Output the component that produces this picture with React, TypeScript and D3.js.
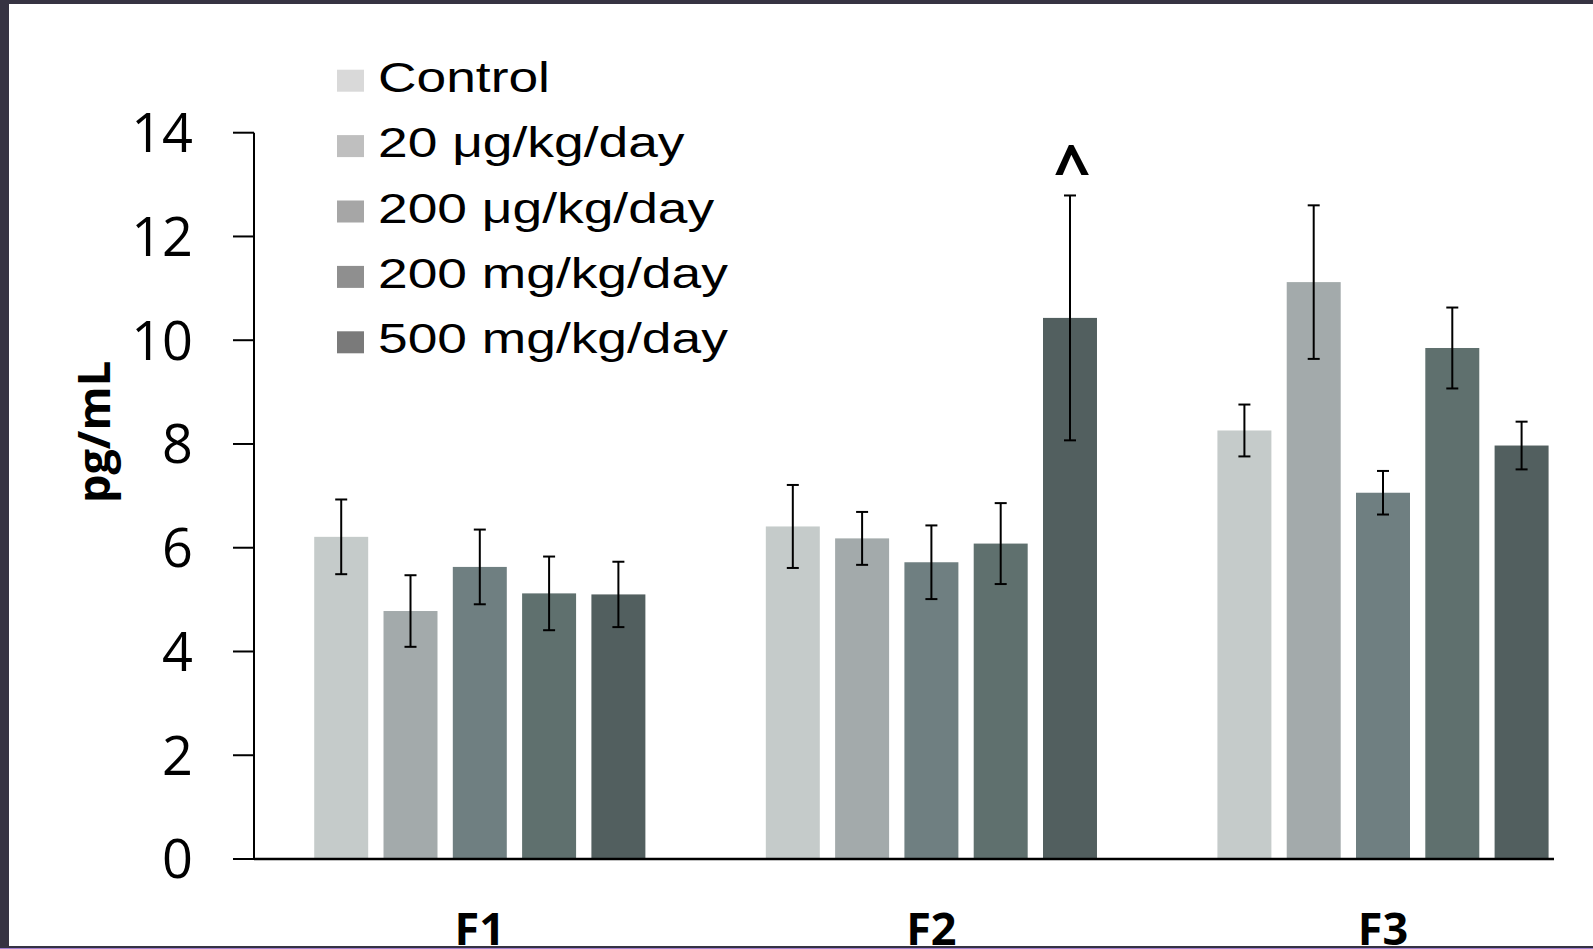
import React from "react";
import * as d3 from "d3";

const generations = ["F1", "F2", "F3"];
const series = ["Control", "20 μg/kg/day", "200 μg/kg/day", "200 mg/kg/day", "500 mg/kg/day"];
const meanF1 = [6.21, 4.78, 5.63, 5.12, 5.1];
const meanF2 = [6.41, 6.18, 5.72, 6.08, 10.43];
const meanF3 = [8.26, 11.12, 7.06, 9.85, 7.97];
const errF1 = [0.72, 0.69, 0.72, 0.71, 0.63];
const errF2 = [0.8, 0.51, 0.71, 0.78, 2.36];
const errF3 = [0.5, 1.48, 0.42, 0.78, 0.46];
const yTicks = [0, 2, 4, 6, 8, 10, 12, 14];
const barColors = ["#c5cbca", "#a3aaab", "#6f7f81", "#5f706e", "#525f5f"];
const legendColors = ["#d9d9d9", "#bfbfbf", "#a6a6a6", "#8f8f8f", "#7a7a7a"];
const markers = [{ gen: "F2", series: "500 mg/kg/day", text: "^" }];

const means = [meanF1, meanF2, meanF3];
const errs = [errF1, errF2, errF3];

export default function App() {
  const W = 1593;
  const H = 949;
  const axisX = 254;
  const y = d3.scaleLinear().domain([0, 14]).range([859, 132.7]);
  const x0 = d3.scaleBand().domain(generations).range([axisX, axisX + 3 * 451.6]).padding(0);
  const x1 = d3
    .scaleBand()
    .domain(series)
    .range([0, x0.bandwidth()])
    .paddingInner(0.221)
    .paddingOuter(0.869);
  const bw = x1.bandwidth();

  const font = "'Open Sans', sans-serif";

  return (
    <svg
      width={W}
      height={H}
      style={{ position: "fixed", left: 0, top: 0, background: "#fff" }}
    >
      <rect x={0} y={0} width={W} height={H} fill="#fff" />
      {/* bars */}
      {generations.map((g, gi) => (
        <g key={g} transform={`translate(${x0(g)},0)`}>
          {series.map((s, si) => {
            const v = means[gi][si];
            const e = errs[gi][si];
            const cx = (x1(s) as number) + bw / 2;
            return (
              <g key={s}>
                <rect
                  x={x1(s)}
                  y={y(v)}
                  width={bw}
                  height={y(0) - y(v)}
                  fill={barColors[si]}
                />
                <line x1={cx} x2={cx} y1={y(v + e)} y2={y(v - e)} stroke="#000" strokeWidth={2} />
                <line x1={cx - 6} x2={cx + 6} y1={y(v + e)} y2={y(v + e)} stroke="#000" strokeWidth={2} />
                <line x1={cx - 6} x2={cx + 6} y1={y(v - e)} y2={y(v - e)} stroke="#000" strokeWidth={2} />
              </g>
            );
          })}
        </g>
      ))}
      {/* markers */}
      {markers.map((m) => {
        const gi = generations.indexOf(m.gen);
        const si = series.indexOf(m.series);
        const cx = (x0(m.gen) as number) + (x1(m.series) as number) + bw / 2;
        const top = y(means[gi][si] + errs[gi][si]);
        return (
          <text
            key={m.gen + m.series}
            x={cx + 2}
            y={top - 4}
            textAnchor="middle"
            fontFamily={font}
            fontWeight="bold"
            fontSize={64}
            fill="#000"
          >
            {m.text}
          </text>
        );
      })}
      {/* axes */}
      <line x1={axisX} x2={axisX} y1={y(14)} y2={y(0)} stroke="#000" strokeWidth={2} />
      <line x1={axisX} x2={1554} y1={y(0)} y2={y(0)} stroke="#000" strokeWidth={2.5} />
      {yTicks.map((t) => (
        <g key={t}>
          <line x1={233} x2={axisX} y1={y(t)} y2={y(t)} stroke="#000" strokeWidth={2} />
          <text
            x={193}
            y={y(t)}
            dy="0.36em"
            textAnchor="end"
            fontFamily={font}
            fontSize={54}
            fill="#000"
          >
            {t}
          </text>
        </g>
      ))}
      {generations.map((g) => (
        <text
          key={g}
          x={(x0(g) as number) + x0.bandwidth() / 2}
          y={945}
          textAnchor="middle"
          fontFamily={font}
          fontWeight="bold"
          fontSize={45}
          fill="#000"
        >
          {g}
        </text>
      ))}
      <text
        transform={`translate(110,432) rotate(-90)`}
        textAnchor="middle"
        fontFamily={font}
        fontWeight="bold"
        fontSize={45}
        fill="#000"
      >
        pg/mL
      </text>
      {/* legend */}
      {series.map((s, si) => {
        const base = 91.7 + si * 65.4;
        return (
          <g key={s}>
            <rect x={337} y={base - 22} width={27} height={22} fill={legendColors[si]} />
            <text
              transform={`translate(378,${base}) scale(1.27,1)`}
              fontFamily="'Liberation Sans', Arial, sans-serif"
              fontSize={42}
              fill="#000"
            >
              {s}
            </text>
          </g>
        );
      })}
      {/* frame */}
      <rect x={0} y={0} width={W} height={4} fill="#363342" />
      <rect x={0} y={0} width={9} height={H} fill="#363342" />
      <rect x={0} y={946} width={W} height={2} fill="#363342" />
      <rect x={0} y={948} width={W} height={1} fill="#a27fcf" />
    </svg>
  );
}
